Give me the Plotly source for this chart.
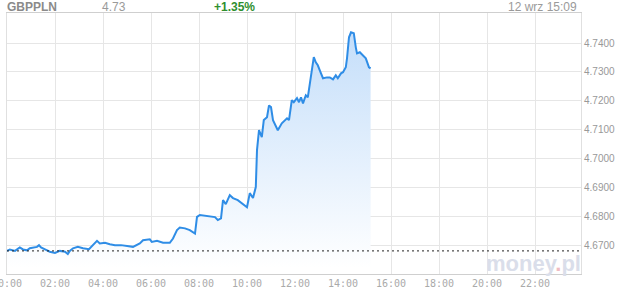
import plotly.graph_objects as go

DAY = "2012-09-12 "

times = ["00:00", "00:07", "00:20", "00:27", "00:32", "00:40", "00:50", "00:57", "01:05", "01:15",
         "01:20", "01:25", "01:35", "01:47", "02:00", "02:12", "02:25", "02:32", "02:37", "02:45",
         "02:57", "03:10", "03:25", "03:40", "03:45", "03:52", "04:05", "04:17", "04:30", "04:45",
         "05:00", "05:15", "05:32", "05:40", "05:57", "06:02", "06:15", "06:30", "06:47", "06:55",
         "07:05", "07:12", "07:25", "07:37", "07:50", "07:55", "08:02", "08:22", "08:40", "08:47",
         "08:55", "09:00", "09:07", "09:17", "09:25", "09:37", "10:00", "10:07", "10:15", "10:22",
         "10:25", "10:30", "10:37", "10:42", "10:50", "10:55", "11:00", "11:05", "11:15", "11:17",
         "11:27", "11:40", "11:45", "11:52", "11:57", "12:05", "12:10", "12:15", "12:20", "12:27",
         "12:32", "12:40", "12:45", "12:47", "12:52", "12:57", "13:05", "13:10", "13:20", "13:27",
         "13:35", "13:42", "13:47", "13:55", "14:00", "14:07", "14:10", "14:15", "14:20", "14:25",
         "14:27", "14:32", "14:35", "14:42", "14:50", "14:57", "15:05", "15:09"]

rates = [4.6680, 4.6685, 4.6680, 4.6689, 4.6692, 4.6685, 4.6682, 4.6689, 4.6692, 4.6694,
         4.6700, 4.6692, 4.6685, 4.6677, 4.6673, 4.6680, 4.6677, 4.6669, 4.6680, 4.6689,
         4.6694, 4.6689, 4.6686, 4.6706, 4.6715, 4.6706, 4.6708, 4.6703, 4.6700, 4.6700,
         4.6697, 4.6694, 4.6706, 4.6717, 4.6720, 4.6711, 4.6715, 4.6708, 4.6708, 4.6723,
         4.6752, 4.6761, 4.6758, 4.6752, 4.6740, 4.6798, 4.6804, 4.6800, 4.6797, 4.6787,
         4.6793, 4.6856, 4.6842, 4.6873, 4.6863, 4.6856, 4.6831, 4.6880, 4.6863, 4.6901,
         4.7029, 4.7098, 4.7074, 4.7133, 4.7143, 4.7184, 4.7178, 4.7133, 4.7108, 4.7098,
         4.7122, 4.7139, 4.7133, 4.7202, 4.7195, 4.7209, 4.7195, 4.7212, 4.7191, 4.7219,
         4.7212, 4.7295, 4.7330, 4.7351, 4.7333, 4.7323, 4.7295, 4.7278, 4.7281, 4.7281,
         4.7274, 4.7288, 4.7278, 4.7295, 4.7299, 4.7316, 4.7347, 4.7420, 4.7437, 4.7434,
         4.7434, 4.7385, 4.7364, 4.7368, 4.7357, 4.7347, 4.7316, 4.7312]

prev_close = 4.6680

x_ticks = ["00:00", "02:00", "04:00", "06:00", "08:00", "10:00", "12:00",
           "14:00", "16:00", "18:00", "20:00", "22:00"]
y_ticks = [4.67, 4.68, 4.69, 4.70, 4.71, 4.72, 4.73, 4.74]
y_labels = ["4.6700", "4.6800", "4.6900", "4.7000", "4.7100", "4.7200", "4.7300", "4.7400"]

symbol = "GBPPLN"
last = "4.73"
change = "+1.35%"
stamp = "12 wrz 15:09"

x = [DAY + t for t in times]

fig = go.Figure()
fig.add_trace(go.Scatter(
    x=x, y=rates, mode="lines",
    line=dict(color="#2f8de6", width=2),
    fill="tozeroy",
    fillgradient=dict(type="vertical", start=4.662, stop=4.744,
                      colorscale=[[0, "rgba(255,255,255,1)"], [1, "rgba(196,222,250,1)"]]),
    hoverinfo="skip", showlegend=False,
))

fig.add_shape(type="line", xref="paper", yref="y", x0=0, x1=1, y0=prev_close, y1=prev_close,
              line=dict(color="#222222", width=1, dash="2px,3px"))

fig.update_layout(
    width=620, height=294,
    margin=dict(l=7, r=39, t=13, b=20, autoexpand=False),
    paper_bgcolor="white", plot_bgcolor="white",
    xaxis=dict(
        type="date",
        range=[DAY + "00:00", DAY + "23:55"],
        tickvals=[DAY + t for t in x_ticks], ticktext=x_ticks,
        ticklabeloverflow="allow", automargin=False,
        showgrid=True, gridcolor="#e6e6e6", gridwidth=1,
        showline=True, linecolor="#cfcfcf", linewidth=1, mirror=True,
        ticks="", zeroline=False,
        tickfont=dict(family="DejaVu Sans Mono", size=10, color="#aaaaaa"),
    ),
    yaxis=dict(
        range=[4.660, 4.7504], side="right", automargin=False,
        tickvals=y_ticks, ticktext=y_labels,
        showgrid=True, gridcolor="#e6e6e6", gridwidth=1,
        showline=True, linecolor="#e0e0e0", linewidth=1, mirror=True,
        ticks="", zeroline=False,
        tickfont=dict(family="Liberation Sans", size=10, color="#999999"),
    ),
    annotations=[
        dict(text="<b>" + symbol + "</b>", xref="paper", yref="paper", x=0, y=1,
             xanchor="left", yanchor="middle", xshift=-2, yshift=6, showarrow=False,
             font=dict(family="Liberation Sans", size=12, color="#8a8a8a")),
        dict(text=last, xref="paper", yref="paper", x=0, y=1,
             xanchor="left", yanchor="middle", xshift=93, yshift=6, showarrow=False,
             font=dict(family="Liberation Sans", size=12, color="#9a9a9a")),
        dict(text="<b>" + change + "</b>", xref="paper", yref="paper", x=0, y=1,
             xanchor="left", yanchor="middle", xshift=205, yshift=6, showarrow=False,
             font=dict(family="Liberation Sans", size=12, color="#2f8f2f")),
        dict(text=stamp, xref="paper", yref="paper", x=1, y=1,
             xanchor="right", yanchor="middle", xshift=-2, yshift=6, showarrow=False,
             font=dict(family="Liberation Sans", size=12, color="#9a9a9a")),
        dict(text="<b>money<span style='color:#f0bcc2'>.</span>pl</b>", xref="paper", yref="paper",
             x=1, y=0, xanchor="right", yanchor="bottom", xshift=2, yshift=-4, showarrow=False,
             font=dict(family="Liberation Sans", size=22, color="#dadeea")),
    ],
)

fig.write_html("out.html")
